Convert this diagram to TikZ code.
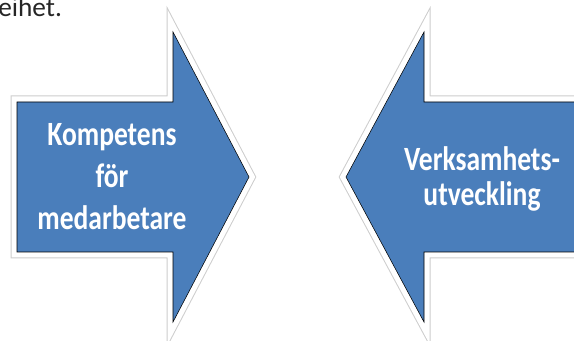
\documentclass[tikz,border=0pt]{standalone}
\usepackage{fontspec}
\setmainfont{Carlito}
\newfontfamily\arrowfont[FakeStretch=0.81]{Carlito}
\usetikzlibrary{positioning}
\definecolor{arrowblue}{RGB}{74,126,187}
\definecolor{rimgray}{RGB}{205,205,205}

\begin{document}
\begin{tikzpicture}[x=0.75pt, y=-0.75pt,
        blockarrow/.style={fill=arrowblue, line join=miter,
                           preaction={draw=rimgray, line width=9.75pt},
                           preaction={draw=white, line width=8.25pt}},
        arrowtext/.style={font=\arrowfont\bfseries\fontsize{25.5}{31.5}\selectfont,
                          text=white, align=center, inner sep=0pt},
        bodytext/.style={font=\fontsize{20.5}{24}\selectfont, text=black!85,
                         inner sep=0pt, anchor=base west},
    ]
    \useasboundingbox (0,0) rectangle (574,341);
    \clip (0,0) rectangle (574,341);

    % cut-off line of text above the arrows
    \node[bodytext] (topline) at (-2,17) {eihet.};

    % left arrow, pointing right
    \draw[blockarrow] (17,102) -- (173,102) -- (173,32) -- (249,177)
        -- (173,322) -- (173,252) -- (17,252) -- cycle;
    \node[arrowtext] (kompetens) at (112,177) {Kompetens\\för\\medarbetare};

    % right arrow, pointing left
    \draw[blockarrow] (600,102) -- (424,102) -- (424,32) -- (346,177)
        -- (424,322) -- (424,252) -- (600,252) -- cycle;
    \node[arrowtext, font=\arrowfont\bfseries\fontsize{25.5}{26}\selectfont]
        (verksamhet) at (482,179) {Verksamhets-\\utveckling};
\end{tikzpicture}
\end{document}
